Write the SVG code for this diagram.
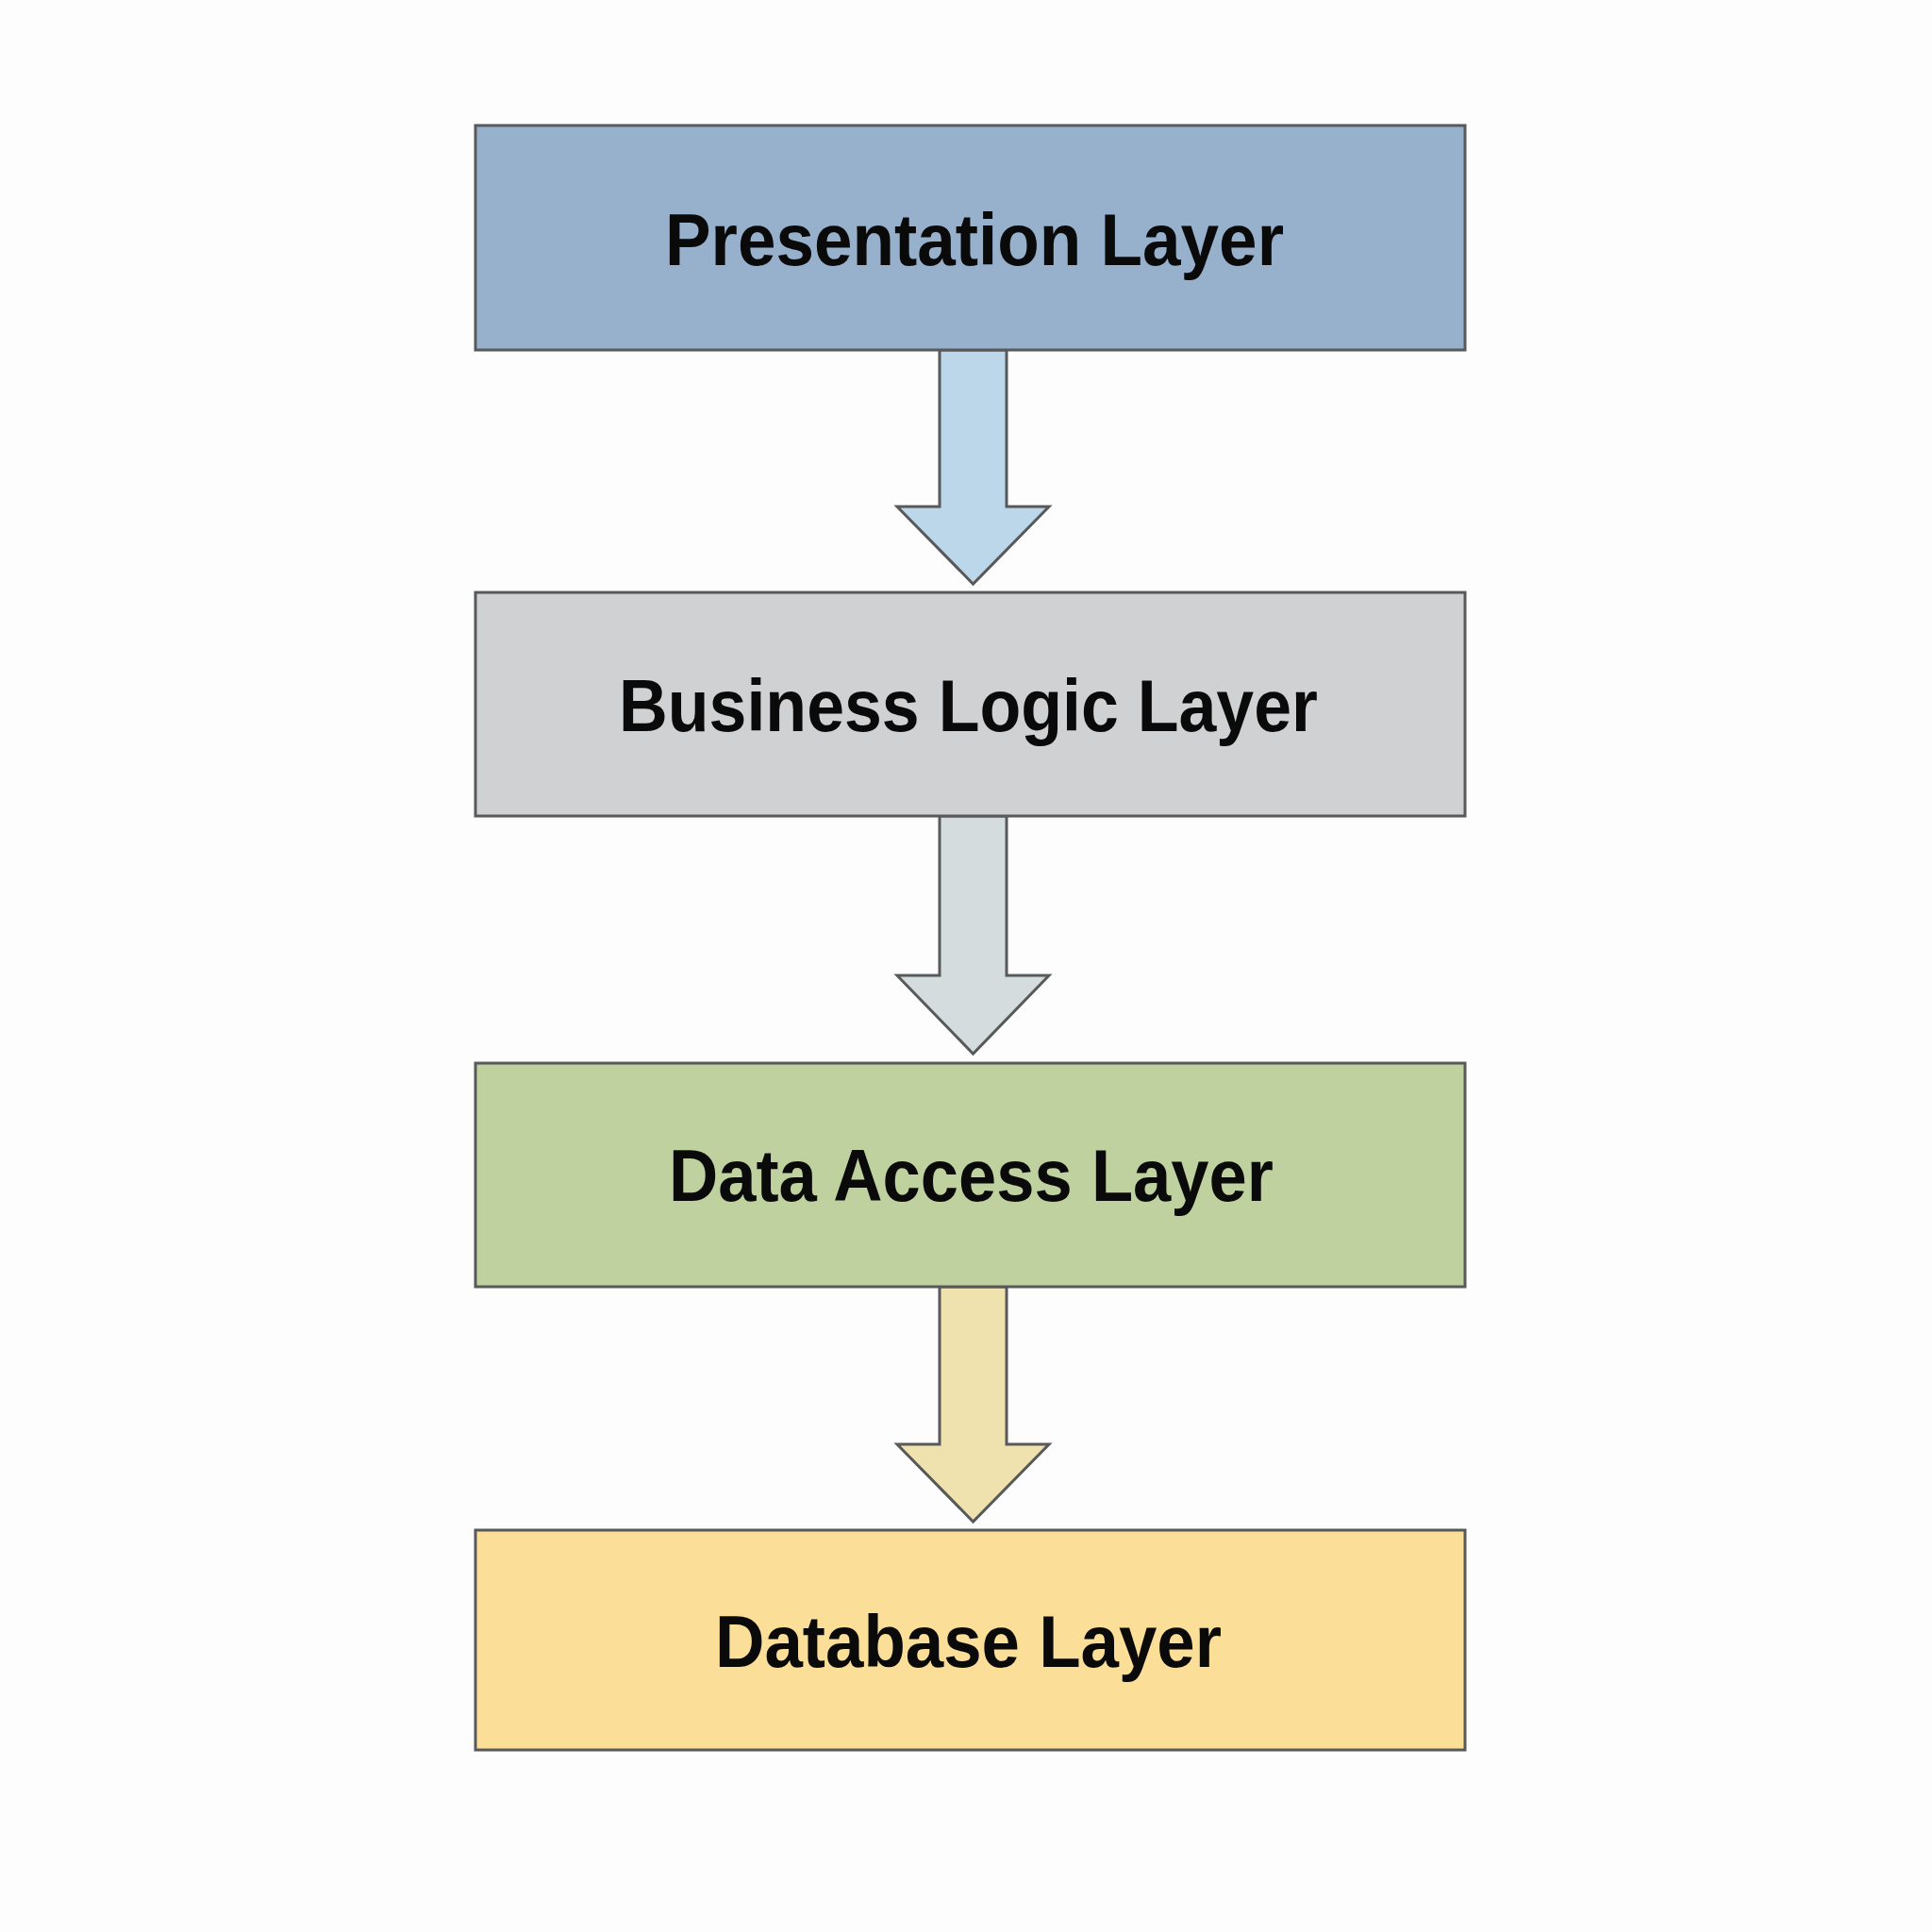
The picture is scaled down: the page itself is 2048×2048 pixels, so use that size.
<svg xmlns="http://www.w3.org/2000/svg" width="2048" height="2048" viewBox="0 0 2048 2048">
<style>
.box{stroke:#58595b;stroke-width:3}
.arr{stroke:#58595b;stroke-width:3;stroke-linejoin:miter}
.lbl{font-family:"Liberation Sans",Arial,sans-serif;font-weight:bold;font-size:77px;fill:#0a0a0a;text-anchor:start}
</style>
<rect width="2048" height="2048" fill="#fdfdfd"/>
<g id="connectors">
<path class="arr" fill="#bcd7ea" d="M996,371 L1067,371 L1067,537 L1112,537 L1031.5,619 L951,537 L996,537 Z"/>
<path class="arr" fill="#d5dcdd" d="M996,865 L1067,865 L1067,1034 L1112,1034 L1031.5,1117 L951,1034 L996,1034 Z"/>
<path class="arr" fill="#efe2ae" d="M996,1364 L1067,1364 L1067,1531 L1112,1531 L1031.5,1613 L951,1531 L996,1531 Z"/>
</g>
<g id="presentation">
<rect class="box" x="504" y="133" width="1049" height="238" fill="#97b0cc"/>
<text class="lbl" x="705" y="281" textLength="656" lengthAdjust="spacingAndGlyphs">Presentation Layer</text>
</g>
<g id="business">
<rect class="box" x="504" y="628" width="1049" height="237" fill="#d0d1d2"/>
<text class="lbl" x="656" y="775" textLength="741" lengthAdjust="spacingAndGlyphs">Business Logic Layer</text>
</g>
<g id="dataaccess">
<rect class="box" x="504" y="1127" width="1049" height="237" fill="#bfd19e"/>
<text class="lbl" x="709" y="1273" textLength="641" lengthAdjust="spacingAndGlyphs">Data Access Layer</text>
</g>
<g id="database">
<rect class="box" x="504" y="1622" width="1049" height="233" fill="#fbdf98"/>
<text class="lbl" x="758" y="1767" textLength="537" lengthAdjust="spacingAndGlyphs">Database Layer</text>
</g>
</svg>
